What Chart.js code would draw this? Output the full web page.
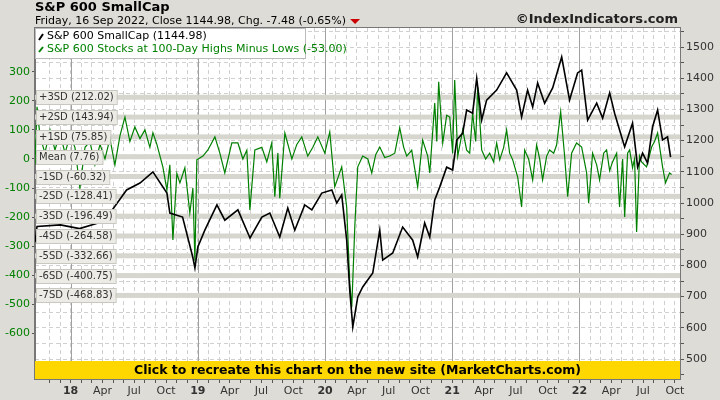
<!DOCTYPE html>
<html>
<head>
<meta charset="utf-8">
<script src="https://cdn.jsdelivr.net/npm/chart.js@4/dist/chart.umd.min.js"></script>
<style>
  html, body { margin: 0; padding: 0; background: #dedcd6; }
  canvas { display: block; }
</style>
</head>
<body>
<canvas id="chart" width="720" height="400"></canvas>
<script>
// S&P 600 SmallCap close (decimal year, value)
const priceDates = [2017.72,2017.736,2017.92,2018.07,2018.21,2018.25,2018.31,2018.44,2018.545,2018.647,2018.757,2018.78,2018.88,2018.96,2018.977,2019.0,2019.055,2019.15,2019.212,2019.315,2019.41,2019.503,2019.566,2019.644,2019.707,2019.762,2019.84,2019.896,2019.974,2020.053,2020.092,2020.131,2020.17,2020.194,2020.218,2020.257,2020.296,2020.375,2020.43,2020.453,2020.532,2020.61,2020.689,2020.728,2020.783,2020.823,2020.862,2020.901,2020.956,2021.003,2021.035,2021.082,2021.113,2021.16,2021.192,2021.231,2021.27,2021.349,2021.427,2021.506,2021.545,2021.592,2021.632,2021.671,2021.726,2021.789,2021.86,2021.922,2021.985,2022.017,2022.064,2022.135,2022.182,2022.237,2022.276,2022.315,2022.355,2022.417,2022.457,2022.496,2022.535,2022.574,2022.614,2022.653,2022.692,2022.716];
const priceValues = [875,925,930,918,935,940,968,1042,1064,1100,1032,968,955,827,792,859,913,994,945,978,888,955,968,891,984,913,994,978,1032,1042,1000,1026,881,721,603,699,731,776,913,817,840,923,881,827,936,891,1010,1051,1115,1106,1202,1224,1298,1288,1400,1266,1330,1362,1417,1362,1276,1362,1308,1385,1320,1369,1468,1330,1417,1426,1266,1320,1272,1353,1288,1234,1180,1256,1115,1160,1128,1244,1298,1202,1212,1147];

// Stocks at 100-day highs minus lows
const hlDates = [2017.72,2017.736,2017.759,2017.798,2017.838,2017.877,2017.916,2017.956,2017.995,2018.034,2018.073,2018.113,2018.152,2018.191,2018.231,2018.27,2018.309,2018.348,2018.388,2018.427,2018.466,2018.505,2018.545,2018.584,2018.623,2018.647,2018.678,2018.725,2018.757,2018.78,2018.804,2018.835,2018.859,2018.898,2018.937,2018.961,2018.977,2018.992,2019.04,2019.079,2019.134,2019.173,2019.212,2019.267,2019.315,2019.354,2019.385,2019.409,2019.448,2019.503,2019.542,2019.581,2019.605,2019.629,2019.644,2019.684,2019.739,2019.778,2019.817,2019.864,2019.904,2019.943,2019.998,2020.037,2020.076,2020.131,2020.17,2020.194,2020.21,2020.234,2020.257,2020.296,2020.336,2020.367,2020.398,2020.43,2020.469,2020.508,2020.548,2020.587,2020.618,2020.642,2020.681,2020.728,2020.767,2020.807,2020.823,2020.862,2020.878,2020.893,2020.925,2020.956,2020.98,2021.003,2021.019,2021.043,2021.082,2021.113,2021.137,2021.16,2021.184,2021.2,2021.231,2021.262,2021.294,2021.325,2021.349,2021.373,2021.404,2021.427,2021.451,2021.475,2021.514,2021.545,2021.569,2021.6,2021.632,2021.663,2021.687,2021.71,2021.742,2021.765,2021.797,2021.82,2021.852,2021.883,2021.907,2021.938,2021.977,2022.017,2022.056,2022.072,2022.103,2022.135,2022.158,2022.19,2022.213,2022.237,2022.26,2022.292,2022.315,2022.339,2022.355,2022.378,2022.394,2022.417,2022.433,2022.449,2022.472,2022.488,2022.527,2022.567,2022.59,2022.614,2022.653,2022.676,2022.708,2022.724];
const hlValues = [-20,179,80,20,100,30,90,20,80,40,-100,40,60,-20,50,0,70,-20,80,144,60,110,70,100,40,90,50,-27,-107,-20,-278,-50,-82,-30,-186,-100,-350,-3,10,31,76,20,-48,55,55,0,30,-175,31,40,-10,55,-130,20,-135,89,0,50,76,10,40,76,20,93,-96,-27,-165,-426,-509,-230,-27,10,0,-48,15,41,5,10,20,107,40,10,30,-96,65,10,-48,192,60,265,55,150,144,20,271,10,100,30,20,158,60,247,31,0,20,-10,55,-3,40,100,20,-3,-62,-165,31,0,-72,48,0,-72,10,31,20,48,162,10,-130,20,55,41,-48,-151,20,-20,-72,20,31,-40,-10,20,-165,0,-199,20,31,-30,0,-251,10,-10,-27,41,60,89,-27,-82,-48,-53];

const sdLabels = ["+3SD (212.02)","+2SD (143.94)","+1SD (75.85)","Mean (7.76)","-1SD (-60.32)","-2SD (-128.41)","-3SD (-196.49)","-4SD (-264.58)","-5SD (-332.66)","-6SD (-400.75)","-7SD (-468.83)"];
const sdLevels = [212.02,143.94,75.85,7.76,-60.32,-128.41,-196.49,-264.58,-332.66,-400.75,-468.83];

const leftTicks = [-600,-500,-400,-300,-200,-100,0,100,200,300];
const rightTicks = [500,600,700,800,900,1000,1100,1200,1300,1400,1500];
const monthNames = ["Jan","Feb","Mar","Apr","May","Jun","Jul","Aug","Sep","Oct","Nov","Dec"];

const FONT = "DejaVu Sans";

function toXY(dates, values) {
  return dates.map((d, i) => ({ x: d, y: values[i] }));
}

const decorations = {
  id: "decorations",
  beforeDraw(chart) {
    const { ctx, chartArea: a } = chart;
    ctx.save();
    ctx.fillStyle = "#fff";
    ctx.fillRect(a.left, a.top, a.right - a.left, a.bottom - a.top);
    ctx.restore();
  },
  beforeDatasetsDraw(chart) {
    const { ctx, chartArea: a, scales } = chart;
    ctx.save();
    // solid year lines
    ctx.strokeStyle = "#a0a0a0";
    ctx.lineWidth = 1;
    for (let y = 2018; y <= 2022; y++) {
      const px = Math.round(scales.x.getPixelForValue(y)) + 0.5;
      ctx.beginPath(); ctx.moveTo(px, a.top); ctx.lineTo(px, a.bottom); ctx.stroke();
    }
    // SD bands
    ctx.fillStyle = "#d6d6ce";
    sdLevels.forEach(v => {
      const py = scales.yL.getPixelForValue(v);
      ctx.fillRect(a.left, py - 2.5, a.right - a.left, 5);
    });
    ctx.restore();
  },
  afterDatasetsDraw(chart) {
    const { ctx, chartArea: a, scales } = chart;
    ctx.save();
    // SD label boxes
    ctx.font = "10px " + FONT;
    ctx.textBaseline = "middle";
    sdLevels.forEach((v, i) => {
      const py = Math.round(scales.yL.getPixelForValue(v));
      const w = ctx.measureText(sdLabels[i]).width + 6;
      ctx.fillStyle = "#ecebe6";
      ctx.fillRect(a.left + 1, py - 7, w, 14);
      ctx.strokeStyle = "#c8c8c0";
      ctx.strokeRect(a.left + 1.5, py - 6.5, w, 14);
      ctx.fillStyle = "#333";
      ctx.fillText(sdLabels[i], a.left + 4, py);
    });
    // legend box
    ctx.fillStyle = "#fff";
    ctx.fillRect(a.left, a.top, 270, 30);
    ctx.strokeStyle = "#bbb";
    ctx.strokeRect(a.left + 0.5, a.top + 0.5, 270, 30);
    ctx.font = "11px " + FONT;
    ctx.lineWidth = 2;
    ctx.strokeStyle = "#000";
    ctx.beginPath(); ctx.moveTo(a.left + 4, a.top + 12); ctx.lineTo(a.left + 8, a.top + 6); ctx.stroke();
    ctx.fillStyle = "#000";
    ctx.fillText("S&P 600 SmallCap (1144.98)", a.left + 12, a.top + 8);
    ctx.strokeStyle = "#008000";
    ctx.beginPath(); ctx.moveTo(a.left + 4, a.top + 24); ctx.lineTo(a.left + 8, a.top + 19); ctx.stroke();
    ctx.fillStyle = "#008000";
    ctx.fillText("S&P 600 Stocks at 100-Day Highs Minus Lows (-53.00)", a.left + 12, a.top + 21);
    // yellow banner
    ctx.fillStyle = "#ffd700";
    ctx.fillRect(a.left, a.bottom - 18, a.right - a.left, 18);
    ctx.fillStyle = "#000";
    ctx.font = "bold 12.5px " + FONT;
    ctx.textAlign = "center";
    ctx.fillText("Click to recreate this chart on the new site (MarketCharts.com)", (a.left + a.right) / 2, a.bottom - 8);
    // plot border
    ctx.strokeStyle = "#777";
    ctx.lineWidth = 1;
    ctx.strokeRect(a.left - 0.5, a.top - 0.5, a.right - a.left + 1, a.bottom - a.top + 1);
    // header
    ctx.textAlign = "left";
    ctx.font = "bold 13px " + FONT;
    ctx.fillText("S&P 600 SmallCap", 35, 8);
    ctx.font = "11px " + FONT;
    const sub = "Friday, 16 Sep 2022, Close 1144.98, Chg. -7.48 (-0.65%)";
    ctx.fillText(sub, 35, 21);
    const sw = ctx.measureText(sub).width;
    ctx.fillStyle = "#cc0000";
    ctx.beginPath(); ctx.moveTo(35 + sw + 4, 19); ctx.lineTo(35 + sw + 14, 19); ctx.lineTo(35 + sw + 9, 24); ctx.fill();
    ctx.fillStyle = "#222";
    ctx.font = "bold 13px " + FONT;
    ctx.textAlign = "right";
    ctx.fillText("©IndexIndicators.com", 678, 20);
    ctx.restore();
  }
};

const chart = new Chart(document.getElementById("chart"), {
  type: "line",
  data: {
    datasets: [
      { label: "S&P 600 SmallCap", data: toXY(priceDates, priceValues), yAxisID: "yR",
        borderColor: "#000", borderWidth: 1.6, pointRadius: 0, tension: 0 },
      { label: "Highs Minus Lows", data: toXY(hlDates, hlValues), yAxisID: "yL",
        borderColor: "#008000", borderWidth: 1.2, pointRadius: 0, tension: 0 }
    ]
  },
  options: {
    responsive: false,
    animation: false,
    devicePixelRatio: 1,
    layout: { padding: { top: 28 } },
    plugins: { legend: { display: false }, tooltip: { enabled: false } },
    scales: {
      x: {
        type: "linear", min: 2017.72, max: 2022.79,
        afterBuildTicks: s => {
          const t = [];
          for (let m = 10; m <= 5 * 12 + 9; m++) t.push({ value: 2017 + m / 12 });
          s.ticks = t;
        },
        afterFit: s => { s.height = 21; },
        grid: { color: "#d0d0d0", tickLength: 4, tickColor: "#555" },
        border: { dash: [4, 3], color: "#777" },
        ticks: {
          autoSkip: false, maxRotation: 0, padding: 2, color: "#333",
          font: c => ({ family: FONT, size: 11, weight: (c.tick && Math.round((c.tick.value % 1) * 12) % 12 === 0) ? "bold" : "normal" }),
          callback: v => {
            const m = Math.round((v - Math.floor(v + 1e-6)) * 12) % 12;
            const yr = Math.floor(v + 1e-6);
            if (m === 0) return String(yr).slice(2);
            if (m === 3 || m === 6 || m === 9) return monthNames[m];
            return "";
          }
        }
      },
      yL: {
        position: "left", min: -756, max: 450,
        afterBuildTicks: s => { s.ticks = leftTicks.map(v => ({ value: v })); },
        afterFit: s => { s.width = 35; },
        grid: { drawOnChartArea: false, tickLength: 3, tickColor: "#555" },
        border: { color: "#777" },
        ticks: { color: "#008000", font: { family: FONT, size: 11 }, padding: 2 }
      },
      yR: {
        position: "right", min: 436, max: 1561,
        afterBuildTicks: s => {
          const t = [];
          for (let v = 450; v <= 1550; v += 50) t.push({ value: v });
          s.ticks = t;
        },
        afterFit: s => { s.width = 40; },
        grid: { color: "#d0d0d0", tickLength: 4, tickColor: "#555" },
        border: { dash: [4, 3], color: "#777" },
        ticks: {
          autoSkip: false, color: "#333", font: { family: FONT, size: 11 }, padding: 2,
          callback: v => rightTicks.includes(v) ? String(v) : ""
        }
      }
    }
  },
  plugins: [decorations]
});
</script>
</body>
</html>
